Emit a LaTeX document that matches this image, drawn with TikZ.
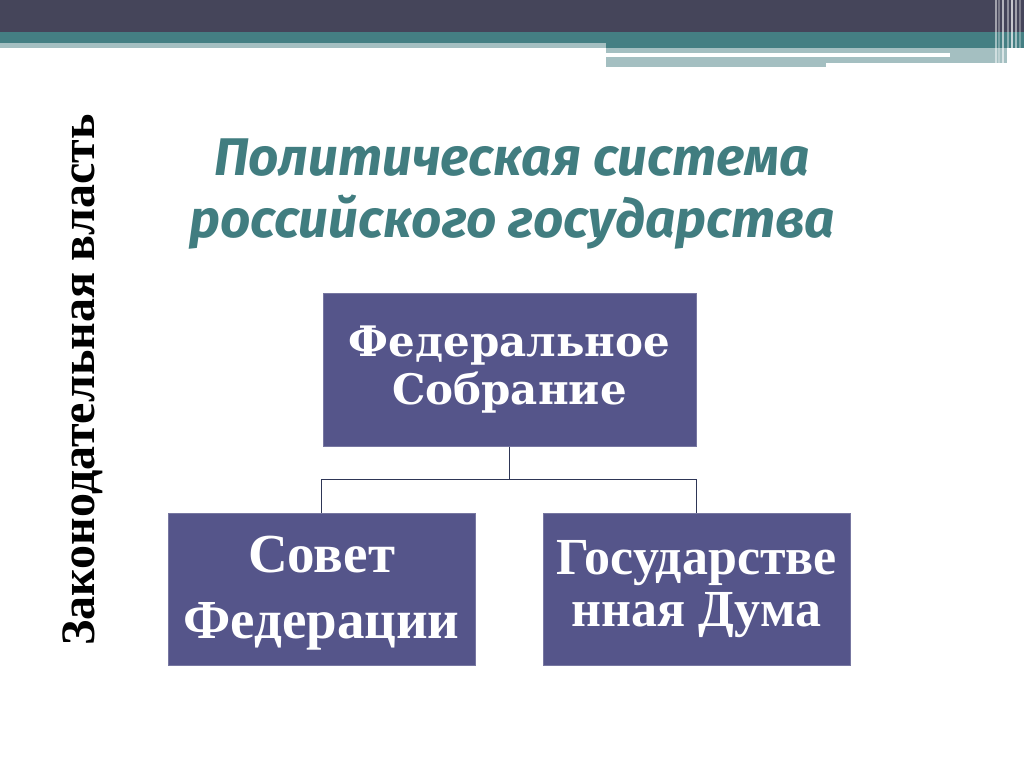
\documentclass[tikz,border=0pt]{standalone}
\usepackage{fontspec}
\setmainfont{Liberation Serif}
\newfontfamily\schfont{DejaVu Serif}
\newfontfamily\headfont{Fira Sans}
\usetikzlibrary{positioning}

\definecolor{bardark}{HTML}{45455A}
\definecolor{barteal}{HTML}{447F83}
\definecolor{barlight}{HTML}{A4BFC1}
\definecolor{boxblue}{HTML}{55558A}
\definecolor{titleteal}{HTML}{417D80}
\definecolor{linkdark}{HTML}{2E3656}

\begin{document}
\begin{tikzpicture}[x=1pt,y=-1pt,
  organ/.style={draw=boxblue!80!white,line width=1pt,fill=boxblue,text=white,
    minimum width=307pt,minimum height=152pt,inner sep=0pt,align=center},
  link/.style={draw=linkdark,line width=1.8pt}]
\useasboundingbox (0,0) rectangle (1024,767);
% top band
\fill[bardark] (0,0) rectangle (1024,32);
\fill[barteal] (0,32) rectangle (1024,48);
\fill[barlight] (0,43) rectangle (606,48);
\fill[barlight] (606,48) rectangle (1007,63);
\fill[barlight] (606,57) rectangle (826,67);
\fill[white] (606,53) rectangle (950,57);
\foreach \x/\o in {996/0.5,999/0.3,1003/0.6,1008/0.4,1012/0.7,1016/0.5,1020/0.3}
  \draw[white,opacity=\o,line width=1.2pt] (\x,0) -- (\x,67);

% title and side label
\node[text=titleteal,font={\headfont\bfseries\itshape\fontsize{53}{62}\selectfont},align=center]
  (title) at (512,194) {Политическая система\\российского государства};
\node[rotate=90,font={\bfseries\fontsize{48}{58}\selectfont}] (side) at (83,380)
  {Законодательная власть};

% boxes
\node[organ,minimum width=373pt,minimum height=153pt,
  font={\schfont\bfseries\fontsize{42}{48}\selectfont}] (fs) at (509.5,369.5)
  {Федеральное\\Собрание};
\node[organ,font={\bfseries\fontsize{55}{66}\selectfont}] (sf) at (321.5,589)
  {\rule{0pt}{44pt}Совет\\Федерации};
\node[organ,font={\bfseries\fontsize{52}{52}\selectfont}] (gd) at (696.5,589)
  {Государстве\\нная Дума};

% connectors
\draw[link] (fs.south) -- ++(0,33) coordinate (bus);
\draw[link] (sf.north) |- (bus) -| (gd.north);
\end{tikzpicture}
\end{document}
